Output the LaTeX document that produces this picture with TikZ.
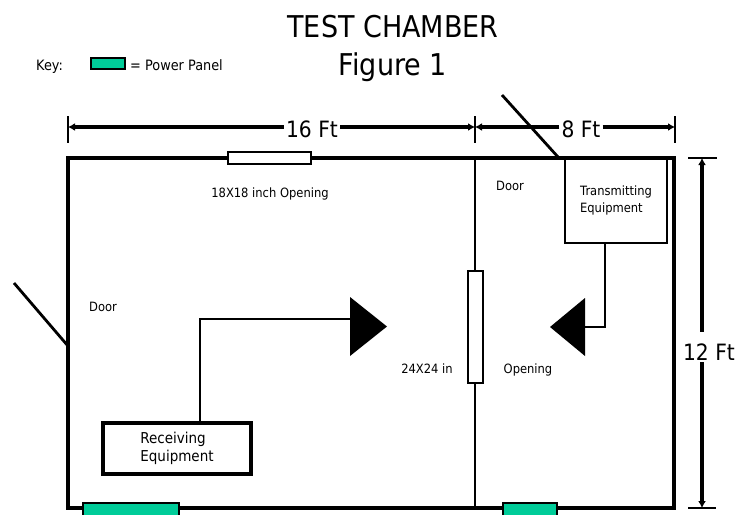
\documentclass[tikz,border=0pt]{standalone}
\usepackage{fontspec}
\setmainfont{DejaVu Sans}[FakeStretch=0.9]
\usepackage{tikz}
\usetikzlibrary{arrows.meta}
\definecolor{panelgreen}{RGB}{0,204,153}

\begin{document}
\begin{tikzpicture}[x=1pt, y=-1pt]
		\tikzset{dimline/.style = {line width = 3.6pt, -{Latex[length=7pt, width=8pt]}}}
		\tikzstyle{wall} = [line width = 4pt, draw=black]
		\tikzstyle{thinwall} = [line width = 1.6pt, draw=black]
		\tikzstyle{door} = [line width = 2.8pt, draw=black]
		\tikzstyle{dimtick} = [line width = 1.8pt]
		\tikzstyle{gap} = [rectangle, draw=black, fill=white, line width = 1.4pt, inner sep=0pt]
		\tikzstyle{panel} = [rectangle, draw=black, fill=panelgreen, line width = 1.8pt, inner sep=0pt]
		\tikzstyle{smalltext} = [font=\fontsize{12.8}{17}\selectfont, inner sep=0pt]
		\tikzstyle{keytext} = [font=\fontsize{14.3}{16}\selectfont, inner sep=0pt, anchor=base west]
		\tikzstyle{dimtext} = [font=\fontsize{22.5}{27}\selectfont, fill=white, inner sep=2pt, anchor=base]
		\tikzstyle{titletext} = [font=\fontsize{30}{36}\selectfont, anchor=base, inner sep=0pt]
		\tikzstyle{equip} = [rectangle, draw=black, align=left]
		
		\useasboundingbox (0,0) rectangle (744,514);
		
		% title and key
		\node[titletext] (title) at (393,37) {TEST CHAMBER};
		\node[titletext] (figno) at (393,75) {Figure 1};
		\node[keytext] (key) at (36,70) {Key:};
		\node[panel, minimum width = 34pt, minimum height = 11pt] (keypanel) at (108,63.5) {};
		\node[keytext] (keylabel) at (130,70) {= Power Panel};
		
		% walls
		\coordinate (nw) at (68,158);
		\coordinate (ne) at (674,158);
		\coordinate (se) at (674,508);
		\coordinate (sw) at (68,508);
		\coordinate (pt) at (475,158);
		\coordinate (pb) at (475,508);
		
		\draw[thinwall] (pt) -- (pb);
		\node[gap, minimum width = 15pt, minimum height = 112pt] (open24) at (475.5,327) {};
		\draw[wall] (nw) -- (ne) -- (se) -- (sw) -- cycle;
		\node[gap, minimum width = 83pt, minimum height = 12pt] (open18) at (269.5,158) {};
		
		\node[panel, minimum width = 96pt, minimum height = 20pt] (panel1) at (131,513) {};
		\node[panel, minimum width = 54pt, minimum height = 20pt] (panel2) at (530,513) {};
		
		% doors
		\coordinate (doorlout) at (14,283);
		\coordinate (doorlin) at (68,346);
		\coordinate (doortout) at (502,95);
		\coordinate (doortin) at (558,157);
		\draw[door] (doorlout) -- (doorlin);
		\draw[door] (doortout) -- (doortin);
		
		% equipment
		\node[equip, line width = 1.6pt, minimum width = 102pt, minimum height = 86pt, smalltext] (tx) at (616,200) {Transmitting\\Equipment};
		\node[equip, line width = 4pt, minimum width = 148pt, minimum height = 51pt, font=\fontsize{15}{18}\selectfont] (rx) at (177,448.5) {Receiving\\Equipment};
		
		% antennas
		\fill (350,297) -- (387,326.5) -- (350,356) -- cycle;
		\fill (585,298) -- (550,327) -- (585,356) -- cycle;
		\coordinate (antl) at (350,319);
		\coordinate (antr) at (585,327);
		\coordinate (rxout) at (200,423);
		\coordinate (txout) at (605,243);
		\draw[line width = 1.8pt] (rxout) |- (antl);
		\draw[line width = 1.8pt] (txout) |- (antr);
		
		% labels
		\node[smalltext, anchor=base] (lab18) at (270,197) {18X18 inch Opening};
		\node[smalltext, anchor=base west] (doorl) at (89,311) {Door};
		\node[smalltext, anchor=base] (doorr) at (510,190) {Door};
		\node[smalltext, anchor=base] (lab24) at (427,373) {24X24 in};
		\node[smalltext, anchor=base] (labop) at (528,373) {Opening};
		
		% dimensions
		\coordinate (d16l) at (68,127);
		\coordinate (d16r) at (475,127);
		\coordinate (d8r) at (675,127);
		\coordinate (d12t) at (702,158);
		\coordinate (d12b) at (702,508);
		\foreach \x in {68,475,675}
			\draw[dimtick] (\x,116) -- (\x,143);
		\draw[dimtick] (688,158) -- (717,158);
		\draw[dimtick] (688,508) -- (716,508);
		
		\node[dimtext] (lab16) at (312,137) {16 Ft};
		\node[dimtext] (lab8) at (581,137) {8 Ft};
		\node[dimtext, text height = 26pt] (lab12) at (709,360) {12 Ft};
		
		\draw[dimline] (lab16.west |- d16l) -- (d16l);
		\draw[dimline] (lab16.east |- d16l) -- (d16r);
		\draw[dimline] (lab8.west |- d16l) -- (d16r);
		\draw[dimline] (lab8.east |- d16l) -- (d8r);
		\draw[dimline] (lab12.north -| d12t) -- (d12t);
		\draw[dimline] (lab12.south -| d12t) -- (d12b);
\end{tikzpicture}
\end{document}
